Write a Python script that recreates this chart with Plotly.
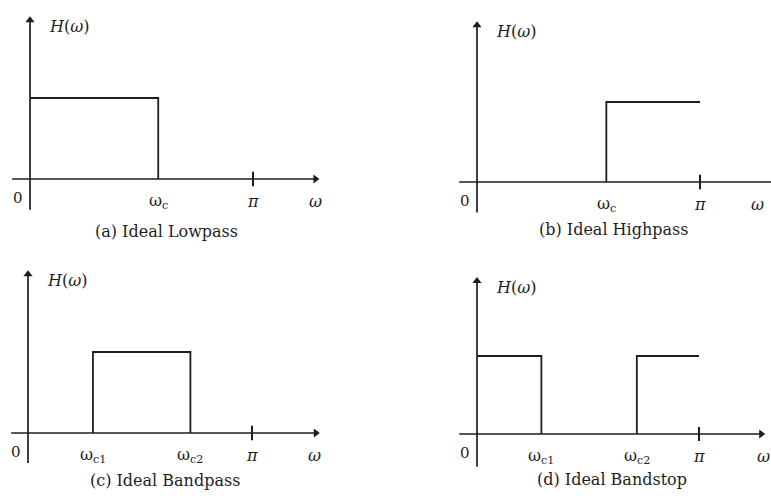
import numpy as np
import plotly.graph_objects as go

PI = np.pi

# ---------------- data ----------------
captions = ["(a) Ideal Lowpass", "(b) Ideal Highpass",
            "(c) Ideal Bandpass", "(d) Ideal Bandstop"]

# magnitude responses H(ω) as outlines (ω, H)
lowpass_w = [0, 0.575 * PI, 0.575 * PI]
lowpass_h = [1, 1, 0]
highpass_w = [0.58 * PI, 0.58 * PI, PI]
highpass_h = [0, 1, 1]
bandpass_w = [0.29 * PI, 0.29 * PI, 0.725 * PI, 0.725 * PI]
bandpass_h = [0, 1, 1, 0]
bandstop_w = [0, 0.29 * PI, 0.29 * PI, None, 0.72 * PI, 0.72 * PI, PI]
bandstop_h = [1, 1, 0, None, 0, 1, 1]

responses_w = [lowpass_w, highpass_w, bandpass_w, bandstop_w]
responses_h = [lowpass_h, highpass_h, bandpass_h, bandstop_h]

# tick marks on the ω axis
tick_vals = [
    [0.575 * PI, PI],
    [0.58 * PI, PI],
    [0.29 * PI, 0.725 * PI, PI],
    [0.29 * PI, 0.72 * PI, PI],
]
tick_text = [
    ["ω<sub>c</sub>", "π"],
    ["ω<sub>c</sub>", "π"],
    ["ω<sub>c1</sub>", "ω<sub>c2</sub>", "π"],
    ["ω<sub>c1</sub>", "ω<sub>c2</sub>", "π"],
]

# axis extents (data units)
w_axis_start = [-0.08 * PI, -0.08 * PI, -0.075 * PI, -0.08 * PI]
w_axis_end = [1.28 * PI, 1.37 * PI, 1.285 * PI, 1.28 * PI]
w_label_pos = [1.28 * PI, 1.26 * PI, 1.28 * PI, 1.29 * PI]
h_axis_start = [-0.38, -0.38, -0.37, -0.42]
h_axis_end = [1.96, 1.96, 1.96, 1.96]

# ---------------- layout geometry (pixels) ----------------
W, H = 771, 500
# origin x, origin y, x-pixel of π, y-pixel of H=1
geom = [
    (30, 179, 253, 98),
    (477, 182, 700, 102),
    (28, 433, 252, 352),
    (477, 434, 699, 356),
]
caption_px = [(166, 232), (613, 230), (165, 480), (612, 479)]

INK = "#1e1e1e"
FONT = "DejaVu Serif"

fig = go.Figure()
layout = dict(width=W, height=H, margin=dict(l=0, r=0, t=0, b=0),
              paper_bgcolor="white", plot_bgcolor="rgba(0,0,0,0)",
              showlegend=False)
annotations = []

for i in range(4):
    x0, y0, pix, topx = geom[i]
    sx = (pix - x0) / PI
    sy = (y0 - topx)
    xr = [(0 - x0) / sx, (W - x0) / sx]
    yr = [(y0 - H) / sy, y0 / sy]
    sfx = "" if i == 0 else str(i + 1)
    xa, ya = "x" + sfx, "y" + sfx
    layout["xaxis" + sfx] = dict(domain=[0, 1], range=xr, visible=False,
                                 anchor=ya, fixedrange=True)
    layout["yaxis" + sfx] = dict(domain=[0, 1], range=yr, visible=False,
                                 anchor=xa, fixedrange=True)

    # ω axis line with arrowhead
    fig.add_trace(go.Scatter(x=[w_axis_start[i], w_axis_end[i]], y=[0, 0],
                             mode="lines", line=dict(color=INK, width=1.7),
                             xaxis=xa, yaxis=ya, hoverinfo="skip"))
    fig.add_trace(go.Scatter(x=[w_axis_end[i]], y=[0], mode="markers",
                             marker=dict(symbol="triangle-right", size=8,
                                         color=INK),
                             xaxis=xa, yaxis=ya, hoverinfo="skip"))
    # H axis line with arrowhead
    fig.add_trace(go.Scatter(x=[0, 0], y=[h_axis_start[i], h_axis_end[i]],
                             mode="lines", line=dict(color=INK, width=1.7),
                             xaxis=xa, yaxis=ya, hoverinfo="skip"))
    fig.add_trace(go.Scatter(x=[0], y=[h_axis_end[i]], mode="markers",
                             marker=dict(symbol="triangle-up", size=8,
                                         color=INK),
                             xaxis=xa, yaxis=ya, hoverinfo="skip"))

    # response
    fig.add_trace(go.Scatter(x=responses_w[i], y=responses_h[i], mode="lines",
                             line=dict(color=INK, width=1.8),
                             xaxis=xa, yaxis=ya, hoverinfo="skip"))
    # π tick mark
    fig.add_trace(go.Scatter(x=[PI, PI], y=[-0.09, 0.09], mode="lines",
                             line=dict(color=INK, width=2),
                             xaxis=xa, yaxis=ya, hoverinfo="skip"))

    # tick labels
    for v, t in zip(tick_vals[i], tick_text[i]):
        annotations.append(dict(x=v, y=0, xref=xa, yref=ya, text=t,
                                showarrow=False, yshift=-22,
                                xanchor="center", yanchor="middle",
                                font=dict(family=FONT, size=16, color=INK,
                                          style="italic" if t == "π" else "normal")))
    annotations.append(dict(x=0, y=0, xref=xa, yref=ya, text="0",
                            showarrow=False, xshift=-12, yshift=-19,
                            xanchor="center", yanchor="middle",
                            font=dict(family=FONT, size=15, color=INK)))
    annotations.append(dict(x=w_label_pos[i], y=0, xref=xa, yref=ya,
                            text="ω", showarrow=False, yshift=-22,
                            xanchor="center", yanchor="middle",
                            font=dict(family=FONT, size=16, color=INK,
                                      style="italic")))
    annotations.append(dict(x=0, y=h_axis_end[i], xref=xa, yref=ya,
                            text="<i>H</i>(<i>ω</i>)", showarrow=False,
                            xanchor="left", yanchor="middle",
                            xshift=17, yshift=-6,
                            font=dict(family=FONT, size=16, color=INK)))
    cx, cy = caption_px[i]
    annotations.append(dict(x=cx / W, y=1 - cy / H, xref="paper", yref="paper",
                            text=captions[i], showarrow=False,
                            xanchor="center", yanchor="middle",
                            font=dict(family=FONT, size=16, color=INK)))

layout["annotations"] = annotations
fig.update_layout(**layout)
fig.write_html("out.html")
